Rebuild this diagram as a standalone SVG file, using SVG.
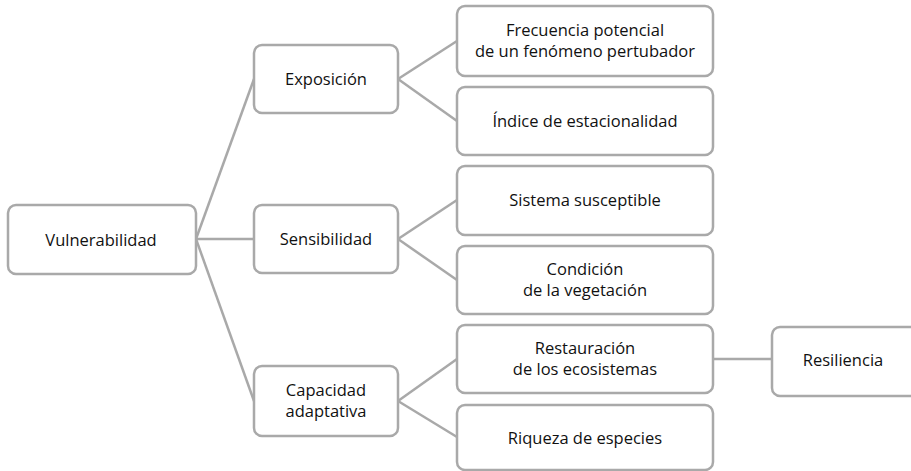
<svg xmlns="http://www.w3.org/2000/svg" width="911" height="471" viewBox="0 0 911 471">
<style>
.box{fill:#fff;stroke:#a9a9a9;stroke-width:2.5}
.t{font-family:"Open Sans","Liberation Sans",sans-serif;font-size:16.5px;fill:#111;text-anchor:middle}
.c{stroke:#a9a9a9;stroke-width:2.5;fill:none}
</style>
<rect width="911" height="471" fill="#fff"/>
<g id="connectors">
<line class="c" x1="196" y1="239" x2="254" y2="79"/>
<line class="c" x1="196" y1="239" x2="254" y2="239"/>
<line class="c" x1="196" y1="239" x2="254" y2="401"/>
<line class="c" x1="398" y1="79" x2="457" y2="41"/>
<line class="c" x1="398" y1="79" x2="457" y2="121"/>
<line class="c" x1="398" y1="239" x2="457" y2="200"/>
<line class="c" x1="398" y1="239" x2="457" y2="280"/>
<line class="c" x1="398" y1="401" x2="457" y2="359"/>
<line class="c" x1="398" y1="401" x2="457" y2="437"/>
<line class="c" x1="713" y1="359" x2="772" y2="359"/>
</g>
<g id="vulnerabilidad"><rect class="box" x="8" y="205" width="188" height="69" rx="8"/><text class="t" x="101" y="246">Vulnerabilidad</text></g>
<g id="exposicion"><rect class="box" x="254" y="45" width="144" height="68" rx="8"/><text class="t" x="326" y="85">Exposición</text></g>
<g id="sensibilidad"><rect class="box" x="254" y="205" width="144" height="68" rx="8"/><text class="t" x="326" y="245">Sensibilidad</text></g>
<g id="capacidad"><rect class="box" x="254" y="366" width="144" height="70" rx="8"/><text class="t" x="326" y="396">Capacidad</text><text class="t" x="326" y="417">adaptativa</text></g>
<g id="frecuencia"><rect class="box" x="457" y="6" width="256" height="70" rx="8"/><text class="t" x="585" y="36">Frecuencia potencial</text><text class="t" x="585" y="57">de un fenómeno pertubador</text></g>
<g id="indice"><rect class="box" x="457" y="87" width="256" height="68" rx="8"/><text class="t" x="585" y="127">Índice de estacionalidad</text></g>
<g id="sistema"><rect class="box" x="457" y="166" width="256" height="69" rx="8"/><text class="t" x="585" y="206">Sistema susceptible</text></g>
<g id="condicion"><rect class="box" x="457" y="246" width="256" height="68" rx="8"/><text class="t" x="585" y="275">Condición</text><text class="t" x="585" y="296">de la vegetación</text></g>
<g id="restauracion"><rect class="box" x="457" y="325" width="256" height="68" rx="8"/><text class="t" x="585" y="354">Restauración</text><text class="t" x="585" y="375">de los ecosistemas</text></g>
<g id="riqueza"><rect class="box" x="457" y="405" width="256" height="65" rx="8"/><text class="t" x="585" y="444">Riqueza de especies</text></g>
<g id="resiliencia"><rect class="box" x="772" y="327" width="150" height="69" rx="8"/><text class="t" x="843" y="366">Resiliencia</text></g>
</svg>
